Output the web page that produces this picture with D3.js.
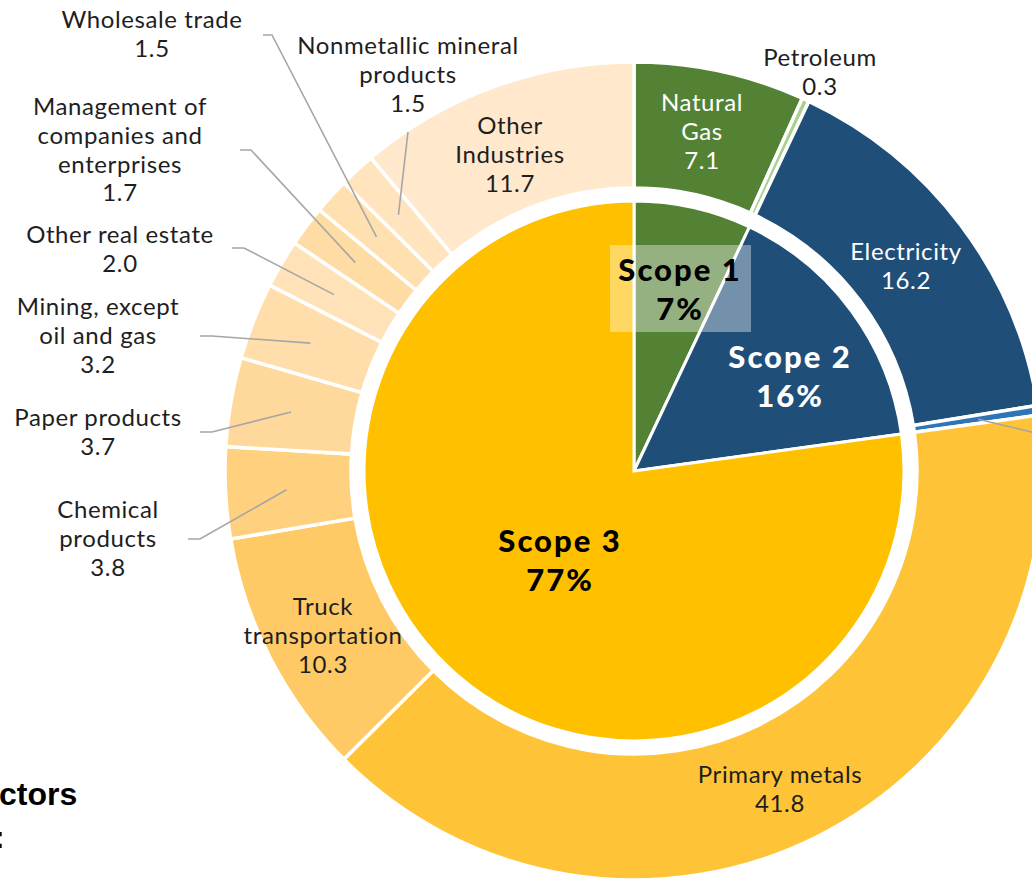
<!DOCTYPE html>
<html>
<head>
<meta charset="utf-8">
<script src="https://cdn.jsdelivr.net/npm/d3@7"></script>
<style>
  body { margin: 0; background: #fff; }
  text { font-family: Lato, "Open Sans", sans-serif; }
  .lbl { font-size: 24px; fill: #1e1e1e; letter-spacing: 0.6px; }
  .scope { font-size: 31px; font-weight: 900; letter-spacing: 2px; }
  .leader { fill: none; stroke: #a6a6a6; stroke-width: 1.6; }
</style>
</head>
<body>
<div id="chart"></div>
<script>
const width = 1032
const height = 880
const cx = 634
const cy = 471

// data
const sectors = ['Natural Gas', 'Petroleum', 'Electricity', 'Other energy', 'Primary metals',
    'Truck transportation', 'Chemical products', 'Paper products', 'Mining, except oil and gas',
    'Other real estate', 'Management of companies and enterprises', 'Wholesale trade',
    'Nonmetallic mineral products', 'Other Industries']
const sectorValues = [7.1, 0.3, 16.2, 0.4, 41.8, 10.3, 3.8, 3.7, 3.2, 2.0, 1.7, 1.5, 1.5, 11.7]
const sectorScope = [1, 1, 2, 2, 3, 3, 3, 3, 3, 3, 3, 3, 3, 3]
const scopes = ['Scope 1', 'Scope 2', 'Scope 3']
const scopeShares = ['7%', '16%', '77%']

const sectorColors = ['#548235', '#a9d18e', '#1f4e79', '#2e75b6', '#ffc337', '#ffca66', '#ffd17f',
    '#ffd99c', '#ffdeab', '#ffe2b8', '#ffdca3', '#ffe0b0', '#ffe4be', '#ffe8cc']
const scopeColors = ['#548235', '#1f4e79', '#ffc000']

// label layout: text lines, anchor and leader path (label side points)
const sectorLabels = {
    'Natural Gas': { lines: ['Natural', 'Gas', '7.1'], x: 702, y: 103, fill: '#fff' },
    'Petroleum': { lines: ['Petroleum', '0.3'], x: 820, y: 58 },
    'Electricity': { lines: ['Electricity', '16.2'], x: 906, y: 252, fill: '#fff' },
    'Other energy': { lines: [], x: 1100, y: 430, leader: [[1040, 434]] },
    'Primary metals': { lines: ['Primary metals', '41.8'], x: 780, y: 775 },
    'Truck transportation': { lines: ['Truck', 'transportation', '10.3'], x: 323, y: 607 },
    'Chemical products': { lines: ['Chemical', 'products', '3.8'], x: 108, y: 510, leader: [[188, 539], [200, 539]] },
    'Paper products': { lines: ['Paper products', '3.7'], x: 98, y: 418, leader: [[200, 432], [212, 432]] },
    'Mining, except oil and gas': { lines: ['Mining, except', 'oil and gas', '3.2'], x: 98, y: 307, leader: [[200, 336], [212, 336]] },
    'Other real estate': { lines: ['Other real estate', '2.0'], x: 120, y: 235, leader: [[232, 248], [244, 248]] },
    'Management of companies and enterprises': { lines: ['Management of', 'companies and', 'enterprises', '1.7'], x: 120, y: 107, leader: [[240, 150], [251, 150]] },
    'Wholesale trade': { lines: ['Wholesale trade', '1.5'], x: 152, y: 20, leader: [[263, 35], [272, 35]] },
    'Nonmetallic mineral products': { lines: ['Nonmetallic mineral', 'products', '1.5'], x: 408, y: 46, leader: [[408, 132]] },
    'Other Industries': { lines: ['Other', 'Industries', '11.7'], x: 510, y: 126 }
}
const scopeLabels = [
    { x: 680, y: 270, fill: '#000', box: true },
    { x: 790, y: 357, fill: '#fff' },
    { x: 560, y: 541, fill: '#000' }
]

const scopeValues = scopes.map((s, i) => d3.sum(sectorValues.filter((v, j) => sectorScope[j] === i + 1)))

let svg = d3.select('#chart').append('svg').attr('width', width).attr('height', height)
let g = svg.append('g').attr('transform', `translate(${cx}, ${cy})`)

let pie = d3.pie().sort(null).value(d => d)
let innerArc = d3.arc().innerRadius(0).outerRadius(270)
let outerArc = d3.arc().innerRadius(283).outerRadius(409)
let midArc = d3.arc().innerRadius(348).outerRadius(348)

let outerData = pie(sectorValues)
let innerData = pie(scopeValues)

g.selectAll('path.sector').data(outerData).enter().append('path')
    .attr('class', 'sector')
    .attr('d', outerArc)
    .attr('fill', (d, i) => sectorColors[i])
    .attr('stroke', '#fff')
    .attr('stroke-width', 3.5)

g.selectAll('path.scope').data(innerData).enter().append('path')
    .attr('class', 'scope')
    .attr('d', innerArc)
    .attr('fill', (d, i) => scopeColors[i])
    .attr('stroke', '#fff')
    .attr('stroke-width', 3)

// leader lines
let line = d3.line()
outerData.forEach((d, i) => {
    let lab = sectorLabels[sectors[i]]
    if (!lab.leader) return
    let c = midArc.centroid(d)
    let pts = lab.leader.map(p => [p[0] - cx, p[1] - cy])
    pts.push(c)
    g.append('path').attr('class', 'leader').attr('d', line(pts))
})

// sector labels
const lh = 28.6
sectors.forEach(name => {
    let lab = sectorLabels[name]
    let t = svg.append('text').attr('class', 'lbl')
        .attr('text-anchor', 'middle')
        .style('fill', lab.fill || '#1e1e1e')
    lab.lines.forEach((s, k) => {
        t.append('tspan').attr('x', lab.x).attr('y', lab.y + k * lh).attr('dy', '0.35em').text(s)
    })
})

// scope labels
scopeLabels.forEach((lab, i) => {
    if (lab.box) {
        svg.append('rect').attr('x', lab.x - 70).attr('y', lab.y - 25)
            .attr('width', 141).attr('height', 87)
            .attr('fill', '#fff').attr('fill-opacity', 0.38)
    }
    let t = svg.append('text').attr('class', 'scope').attr('text-anchor', 'middle').attr('fill', lab.fill)
    t.append('tspan').attr('x', lab.x).attr('y', lab.y).attr('dy', '0.35em').text(scopes[i])
    t.append('tspan').attr('x', lab.x).attr('y', lab.y + 39).attr('dy', '0.35em').text(scopeShares[i])
})

// clipped title fragment at the lower left
svg.append('text').attr('x', -1).attr('y', 805)
    .style('font-family', '"Liberation Sans", Arial, sans-serif')
    .style('fill', '#000')
    .attr('font-size', 32).attr('font-weight', 'bold').text('ctors')
svg.append('text').attr('x', -6).attr('y', 848)
    .style('font-family', '"Liberation Sans", Arial, sans-serif')
    .style('fill', '#000')
    .attr('font-size', 32).attr('font-weight', 'bold').text(':')
</script>
</body>
</html>
